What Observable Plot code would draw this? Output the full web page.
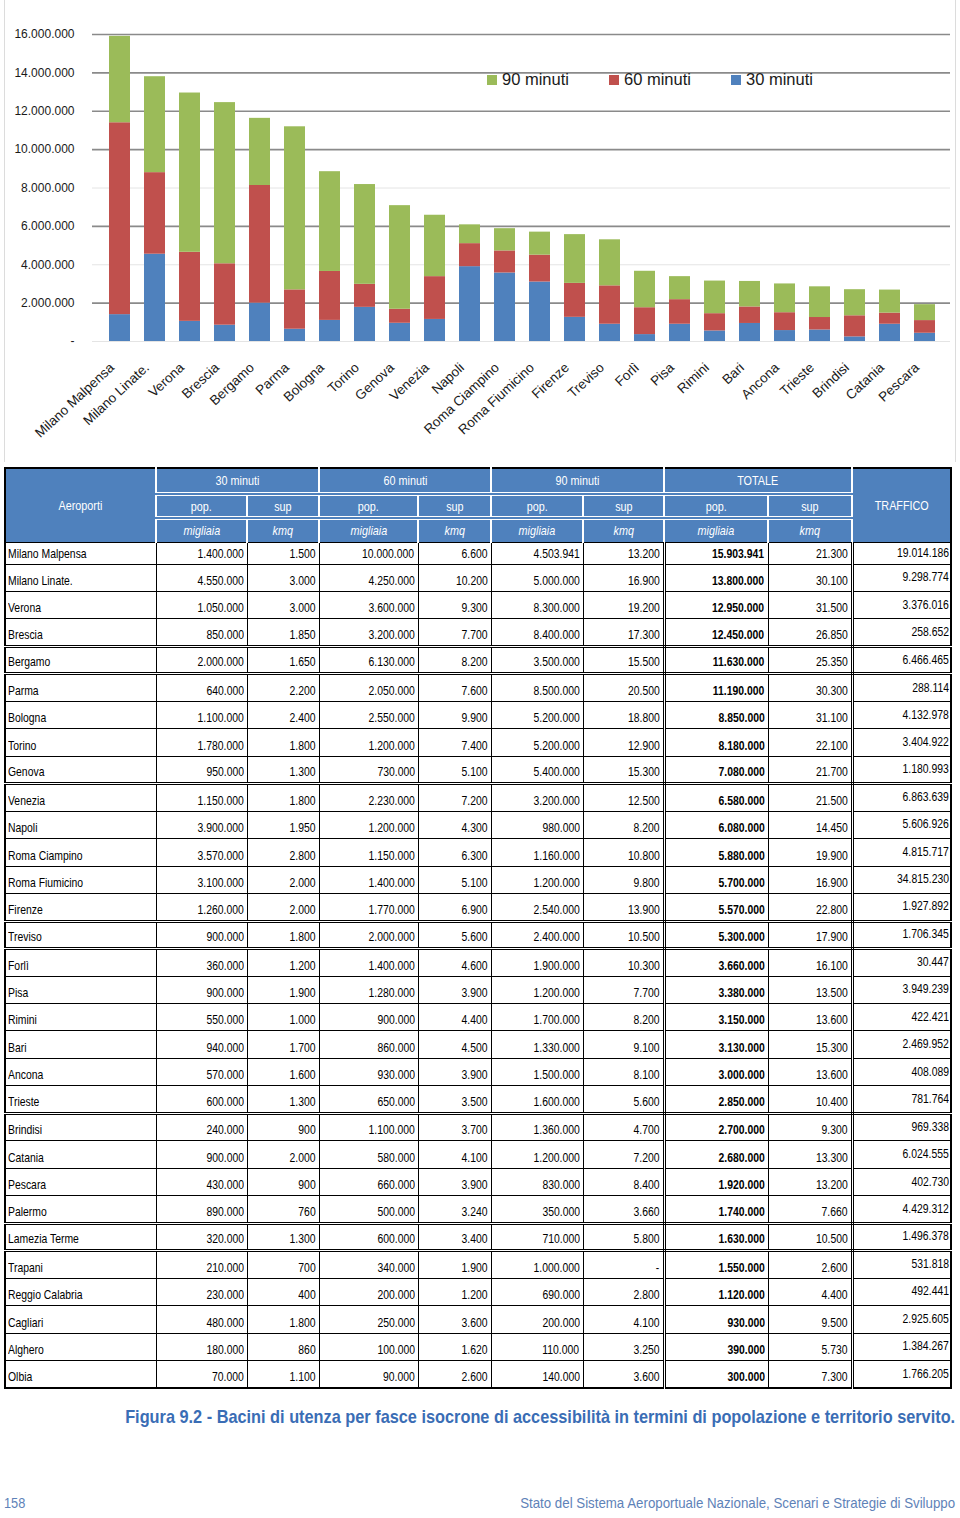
<!DOCTYPE html>
<html><head><meta charset="utf-8">
<script src="https://cdn.jsdelivr.net/npm/d3@7"></script>
<script src="https://cdn.jsdelivr.net/npm/@observablehq/plot@0.6"></script>
<style>
body{margin:0;background:#fff;font-family:"Liberation Sans",Arial,sans-serif;}
#page{position:relative;width:960px;height:1518px;overflow:hidden;}
#chartbox{position:absolute;left:4px;top:0;width:950px;height:462px;border-left:1px solid #dcdcdc;border-right:1px solid #dcdcdc;}
#chart{position:absolute;left:0;top:0;}
#legend{position:absolute;left:487px;top:70px;display:flex;font-size:16.5px;color:#1a1a1a;white-space:nowrap;}
#legend .item{width:122px;display:flex;align-items:center;}
#legend .sw{display:inline-block;width:10px;height:10px;margin-right:5px;}
table{position:absolute;left:4px;top:467px;border-collapse:collapse;table-layout:fixed;width:946px;
  font-family:"Liberation Sans",Arial,sans-serif;font-size:13px;color:#000;border:2px solid #000;}
th{background:#4F81BD;color:#fff;font-weight:normal;padding:0;text-align:center;vertical-align:middle;font-size:13.5px;}
thead tr.r1{height:26px;}
thead tr.r2, thead tr.r3{height:24px;}
thead tr.r1 th.grp{border-bottom:4px double #fff;}
thead tr.r2 th{border-bottom:4px double #fff;}
thead th.sep{border-right:2px solid #fff;}
thead tr.r3 th{font-style:italic;}
span.s{display:inline-block;transform:scaleX(0.8);white-space:nowrap;}
th span.s{transform-origin:center;}
td{border:1px solid #000;padding:0 3px 3px 3px;vertical-align:bottom;white-space:nowrap;overflow:hidden;}
tbody tr{height:27.47px;}
tbody tr:first-child{height:22px;}
td.num{text-align:right;}
td.num span.s{transform-origin:right center;}
td.name{text-align:left;padding-left:2px;}
td.name span.s{transform-origin:left center;}
td.tot{font-weight:bold;}
td.traf{vertical-align:middle;padding-bottom:2px;padding-right:1px;}
td.dbl{border-right:3px double #000;}
tr.thick td{border-bottom:3px double #000;}
#caption{position:absolute;top:1406px;right:5px;white-space:nowrap;font-family:"Liberation Sans",Arial,sans-serif;font-weight:bold;font-size:19px;color:#3A6DB5;transform-origin:right center;}
#pnum{position:absolute;left:4px;top:1494px;font-family:"Liberation Sans",Arial,sans-serif;font-size:15px;color:#5E82B8;transform-origin:left center;transform:scaleX(0.85);}
#footer{position:absolute;right:5px;top:1494px;white-space:nowrap;font-family:"Liberation Sans",Arial,sans-serif;font-size:15px;color:#5E82B8;transform-origin:right center;}
</style>
</head><body>
<div id="page">
  <div id="chartbox"></div>
  <div id="chart"></div>
  <div id="legend"></div>
  <table id="tab"></table>
  <div id="caption">Figura 9.2 - Bacini di utenza per fasce isocrone di accessibilità in termini di popolazione e territorio servito.</div>
  <div id="pnum">158</div>
  <div id="footer">Stato del Sistema Aeroportuale Nazionale, Scenari e Strategie di Sviluppo</div>
</div>
<script>
// ---------------- DATA ----------------
const airports = ["Milano Malpensa","Milano Linate.","Verona","Brescia","Bergamo","Parma","Bologna","Torino","Genova","Venezia","Napoli","Roma Ciampino","Roma Fiumicino","Firenze","Treviso","Forlì","Pisa","Rimini","Bari","Ancona","Trieste","Brindisi","Catania","Pescara","Palermo","Lamezia Terme","Trapani","Reggio Calabria","Cagliari","Alghero","Olbia"];
const pop30 = [1400000,4550000,1050000,850000,2000000,640000,1100000,1780000,950000,1150000,3900000,3570000,3100000,1260000,900000,360000,900000,550000,940000,570000,600000,240000,900000,430000,890000,320000,210000,230000,480000,180000,70000];
const sup30 = [1500,3000,3000,1850,1650,2200,2400,1800,1300,1800,1950,2800,2000,2000,1800,1200,1900,1000,1700,1600,1300,900,2000,900,760,1300,700,400,1800,860,1100];
const pop60 = [10000000,4250000,3600000,3200000,6130000,2050000,2550000,1200000,730000,2230000,1200000,1150000,1400000,1770000,2000000,1400000,1280000,900000,860000,930000,650000,1100000,580000,660000,500000,600000,340000,200000,250000,100000,90000];
const sup60 = [6600,10200,9300,7700,8200,7600,9900,7400,5100,7200,4300,6300,5100,6900,5600,4600,3900,4400,4500,3900,3500,3700,4100,3900,3240,3400,1900,1200,3600,1620,2600];
const pop90 = [4503941,5000000,8300000,8400000,3500000,8500000,5200000,5200000,5400000,3200000,980000,1160000,1200000,2540000,2400000,1900000,1200000,1700000,1330000,1500000,1600000,1360000,1200000,830000,350000,710000,1000000,690000,200000,110000,140000];
const sup90 = [13200,16900,19200,17300,15500,20500,18800,12900,15300,12500,8200,10800,9800,13900,10500,10300,7700,8200,9100,8100,5600,4700,7200,8400,3660,5800,null,2800,4100,3250,3600];
const popTot = [15903941,13800000,12950000,12450000,11630000,11190000,8850000,8180000,7080000,6580000,6080000,5880000,5700000,5570000,5300000,3660000,3380000,3150000,3130000,3000000,2850000,2700000,2680000,1920000,1740000,1630000,1550000,1120000,930000,390000,300000];
const supTot = [21300,30100,31500,26850,25350,30300,31100,22100,21700,21500,14450,19900,16900,22800,17900,16100,13500,13600,15300,13600,10400,9300,13300,13200,7660,10500,2600,4400,9500,5730,7300];
const traffico = [19014186,9298774,3376016,258652,6466465,288114,4132978,3404922,1180993,6863639,5606926,4815717,34815230,1927892,1706345,30447,3949239,422421,2469952,408089,781764,969338,6024555,402730,4429312,1496378,531818,492441,2925605,1384267,1766205];
const chartCount = 24; // airports shown in the bar chart (Milano Malpensa … Pescara)
const bands = ["30 minuti","60 minuti","90 minuti"];
const legendOrder = ["90 minuti","60 minuti","30 minuti"];
const yTicks = [0,2000000,4000000,6000000,8000000,10000000,12000000,14000000,16000000];
const groupHeaders = ["30 minuti","60 minuti","90 minuti","TOTALE"];
const subHeaders = ["pop.","sup"];
const unitHeaders = ["migliaia","kmq"];

// ---------------- HELPERS ----------------
const itLocale = d3.formatLocale({decimal:",",thousands:".",grouping:[3],currency:["€",""]});
const fmt = itLocale.format(",d");
const f = v => v == null ? "-" : fmt(v);
const colors = {"30 minuti":"#4F81BD","60 minuti":"#C0504D","90 minuti":"#9BBB59"};
const S = t => `<span class="s">${t}</span>`;

// ---------------- CHART ----------------
const chartNames = airports.slice(0, chartCount);
const chartData = [];
chartNames.forEach((a,i) => {
  chartData.push({airport:a, band:"30 minuti", value:pop30[i]});
  chartData.push({airport:a, band:"60 minuti", value:pop60[i]});
  chartData.push({airport:a, band:"90 minuti", value:pop90[i]});
});
const darkGrid = yTicks.filter(t => ![0,4000000,8000000].includes(t));
const lightGrid = yTicks.filter(t => [0,4000000,8000000].includes(t));

const chart = Plot.plot({
  width:960, height:462,
  marginLeft:85, marginRight:2, marginTop:34, marginBottom:121,
  style:{fontFamily:'"Liberation Sans",Arial,sans-serif', background:"transparent", color:"#1a1a1a"},
  x:{domain:chartNames, padding:0.41, label:null},
  y:{domain:[0,16000000], label:null},
  color:{domain:bands, range:bands.map(b=>colors[b])},
  marks:[
    Plot.ruleY(lightGrid, {stroke:"#e4e4e4", strokeWidth:1, insetLeft:7, insetRight:8}),
    Plot.ruleY(darkGrid, {stroke:"#8a8a8a", strokeWidth:1.6, insetLeft:7, insetRight:8}),
    Plot.barY(chartData, {x:"airport", y:"value", fill:"band", order:null}),
    Plot.axisY({ticks:yTicks, tickFormat:d => d===0 ? "-" : fmt(d), tickSize:0, tickPadding:11, fontSize:12, label:null}),
    Plot.axisX({tickRotate:-43, tickSize:0, tickPadding:24, dx:-8, fontSize:13.5, label:null})
  ]
});
document.getElementById("chart").appendChild(chart);

// legend
const leg = document.getElementById("legend");
legendOrder.forEach(b => {
  const item = document.createElement("div"); item.className = "item";
  item.innerHTML = `<span class="sw" style="background:${colors[b]}"></span><span>${b}</span>`;
  leg.appendChild(item);
});

// ---------------- TABLE ----------------
const tab = document.getElementById("tab");
const widths = [151,91,72,99,73,92,81,104,84,99];
const cg = document.createElement("colgroup");
widths.forEach(w => { const c = document.createElement("col"); c.style.width = w+"px"; cg.appendChild(c); });
tab.appendChild(cg);
const thead = document.createElement("thead");
let r1 = `<tr class="r1"><th rowspan="3" class="sep">${S("Aeroporti")}</th>`;
groupHeaders.forEach(g => r1 += `<th colspan="2" class="grp sep">${S(g)}</th>`);
r1 += `<th rowspan="3">${S("TRAFFICO")}</th></tr>`;
let r2 = `<tr class="r2">`;
groupHeaders.forEach(() => subHeaders.forEach((s,j) => r2 += `<th class="${j===1?'sep':''}" style="${j===0?'border-right:2px solid #fff':''}">${S(s)}</th>`));
r2 += `</tr>`;
let r3 = `<tr class="r3">`;
groupHeaders.forEach(() => unitHeaders.forEach((s,j) => r3 += `<th class="${j===1?'sep':''}" style="${j===0?'border-right:2px solid #fff':''}">${S(s)}</th>`));
r3 += `</tr>`;
thead.innerHTML = r1 + r2 + r3;
tab.appendChild(thead);

const thickAfter = new Set(["Brescia","Bergamo","Genova","Firenze","Treviso","Trieste","Palermo","Lamezia Terme"]);
const tbody = document.createElement("tbody");
airports.forEach((a,i) => {
  const tr = document.createElement("tr");
  if (thickAfter.has(a)) tr.className = "thick";
  tr.innerHTML =
    `<td class="name">${S(a)}</td>` +
    `<td class="num">${S(f(pop30[i]))}</td>` +
    `<td class="num">${S(f(sup30[i]))}</td>` +
    `<td class="num">${S(f(pop60[i]))}</td>` +
    `<td class="num">${S(f(sup60[i]))}</td>` +
    `<td class="num">${S(f(pop90[i]))}</td>` +
    `<td class="num dbl">${S(f(sup90[i]))}</td>` +
    `<td class="num tot">${S(f(popTot[i]))}</td>` +
    `<td class="num dbl">${S(f(supTot[i]))}</td>` +
    `<td class="num traf">${S(f(traffico[i]))}</td>`;
  tbody.appendChild(tr);
});
tab.appendChild(tbody);

// fit caption / footer widths
function fit(id, target){
  const el = document.getElementById(id);
  const w = el.getBoundingClientRect().width;
  if (w > 0) el.style.transform = `scaleX(${target/w})`;
}
fit("caption", 830);
fit("footer", 435);
</script>
</body></html>
